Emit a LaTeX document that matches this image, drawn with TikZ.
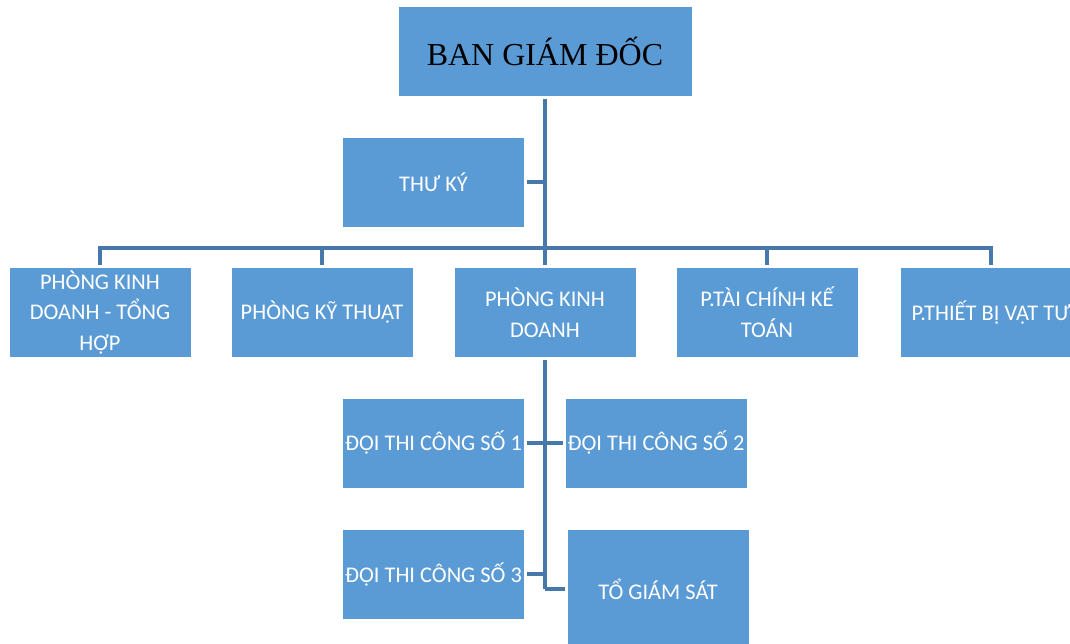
\documentclass[tikz,border=0pt]{standalone}
\usepackage{fontspec}
\setmainfont{Carlito}
\newfontfamily\titlefont{Liberation Serif}
\definecolor{boxBlue}{RGB}{91,155,213}
\definecolor{lineBlue}{RGB}{70,120,170}

\begin{document}
\begin{tikzpicture}
[x=0.75pt,y=-0.75pt,
  lineDecorate/.style={-,line width=2.4pt,draw=lineBlue},%
  nodeDecorate/.style={shape=rectangle,fill=boxBlue,text=white,inner sep=0pt,
    minimum width=135.75pt,minimum height=66.75pt,align=center,
    font=\fontsize{16.8}{23}\selectfont}]
\useasboundingbox (0,0) rectangle (1070,643);
%% top node
\node (bgd) at (545,51.5) [nodeDecorate,minimum width=219.75pt,text=black,
  font=\titlefont\fontsize{24}{28}\selectfont] {BAN GIÁM ĐỐC};
%% nodes or vertices
\foreach \nodename/\x/\y/\label in {
  thuky/433.5/182/{THƯ KÝ},
  pkdth/100/312.5/{PHÒNG KINH\\DOANH - TỔNG\\HỢP},
  pkt/322/312.5/{PHÒNG KỸ THUẬT},
  pkd/545/312.5/{PHÒNG KINH\\DOANH},
  ptckt/767/312.5/{P.TÀI CHÍNH KẾ\\TOÁN},
  ptbvt/991/312.5/{P.THIẾT BỊ VẬT TƯ},
  doi1/433.5/443/{ĐỘI THI CÔNG SỐ 1},
  doi2/656/443/{ĐỘI THI CÔNG SỐ 2},
  doi3/433.5/574/{ĐỘI THI CÔNG SỐ 3}}
{
  \node (\nodename) at (\x,\y) [nodeDecorate] {\label};
}
\node (togs) at (658,589) [nodeDecorate,minimum height=88.5pt] {TỔ GIÁM SÁT};
%% junctions
\coordinate (bar) at (545,248);
\coordinate (foot) at (545,589);
%% edges or lines
\draw[lineDecorate,shorten <=2pt] (bgd.south) -- (bar);
\draw[lineDecorate,shorten <=2pt] (thuky.east) -- (thuky.east -| bar);
\foreach \endnode in {pkdth,pkt,pkd,ptckt,ptbvt}
{
  \draw[lineDecorate,shorten >=2pt] (bar) -| (\endnode.north);
}
\draw[lineDecorate,shorten <=2pt] (pkd.south) -- (foot);
\draw[lineDecorate,shorten >=2pt] (foot) -- (togs.west);
\foreach \startnode in {doi1,doi3}
{
  \draw[lineDecorate,shorten <=2pt] (\startnode.east) -- (\startnode.east -| foot);
}
\draw[lineDecorate,shorten <=2pt] (doi2.west) -- (doi2.west -| foot);
\end{tikzpicture}
\end{document}
